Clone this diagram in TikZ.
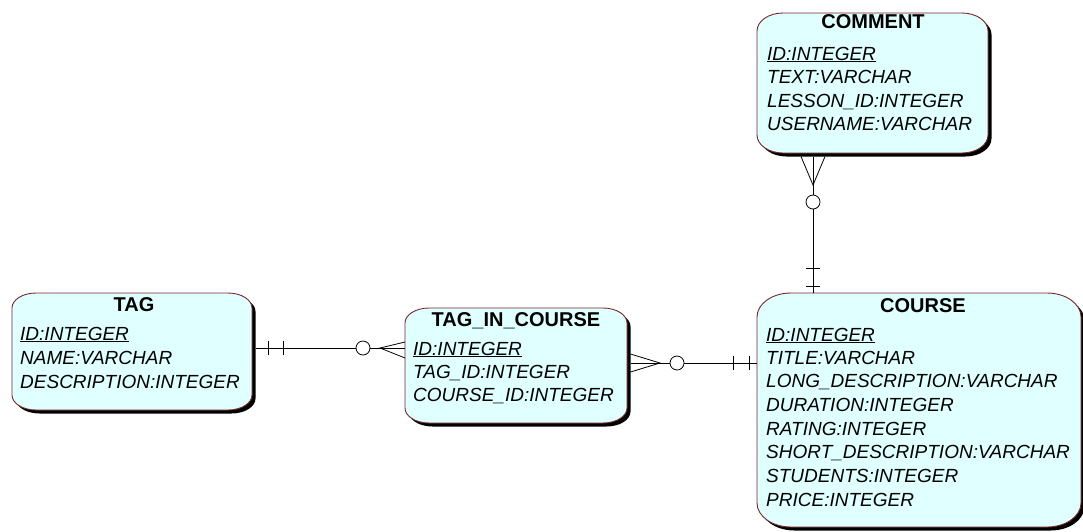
\documentclass[tikz,border=0pt]{standalone}
\usepackage{fontspec}
\setmainfont{Liberation Sans}
\definecolor{boxfill}{RGB}{224,255,255}
\definecolor{boxline}{RGB}{120,40,40}
% elliptical-corner box outline: x1,y1,x2,y2,rx,ry
\newcommand\erpath[6]{%
 (#1+#5,#2) -- (#3-#5,#2) .. controls (#3-0.4477*#5,#2) and (#3,#2+0.4477*#6) .. (#3,#2+#6)
 -- (#3,#4-#6) .. controls (#3,#4-0.4477*#6) and (#3-0.4477*#5,#4) .. (#3-#5,#4)
 -- (#1+#5,#4) .. controls (#1+0.4477*#5,#4) and (#1,#4-0.4477*#6) .. (#1,#4-#6)
 -- (#1,#2+#6) .. controls (#1,#2+0.4477*#6) and (#1+0.4477*#5,#2) .. (#1+#5,#2) -- cycle}
% entity: name, x1,y1,x2,y2, rx, ry
\newcommand\erentity[7]{%
 \fill[black, shift={(3.5,3.5)}] \erpath{#2}{#3}{#4}{#5}{#6}{#7};
 \filldraw[entitybox] \erpath{#2}{#3}{#4}{#5}{#6}{#7};
 \path (#2,#3) rectangle (#4,#5);
 \node[inner sep=0pt, outer sep=0pt, minimum width=#4pt-#2pt, minimum height=#5pt-#3pt, anchor=north west] (#1) at (#2,#3) {};}
\begin{document}
\begin{tikzpicture}[x=1pt,y=-1pt,
  entitybox/.style={draw=boxline, fill=boxfill, line width=0.9pt},
  title/.style={font=\fontsize{20}{24}\selectfont\bfseries, anchor=base, inner sep=0pt},
  field/.style={font=\fontsize{19}{24}\selectfont\itshape, anchor=base west, inner sep=0pt},
  conn/.style={line width=0.8pt, black},
  ring/.style={draw=black, line width=0.8pt, fill=white, circle, minimum size=14pt, inner sep=0pt}]
\useasboundingbox (0,0) rectangle (1083,531);
\fill[white] (0,0) rectangle (1083,531);

% entities
\erentity{tag}{12}{293}{252}{410}{24}{15}
\erentity{tic}{405}{308}{627}{423}{24}{15}
\erentity{comment}{757}{13}{988}{153}{26}{18}
\erentity{course}{757}{293}{1081}{527}{34}{24}

% TAG
\node[title] (tag-t) at (134,311) {TAG};
\node[field] (tag-1) at (20,340) {\underline{ID:INTEGER}};
\node[field] (tag-2) at (20,364) {NAME:VARCHAR};
\node[field] (tag-3) at (20,388) {DESCRIPTION:INTEGER};

% TAG_IN_COURSE
\node[title] (tic-t) at (516,326) {TAG\_IN\_COURSE};
\node[field] (tic-1) at (413,355) {\underline{ID:INTEGER}};
\node[field] (tic-2) at (413,378) {TAG\_ID:INTEGER};
\node[field] (tic-3) at (413,401) {COURSE\_ID:INTEGER};

% COMMENT
\node[title] (com-t) at (873,28) {COMMENT};
\node[field] (com-1) at (767,60) {\underline{ID:INTEGER}};
\node[field] (com-2) at (767,83) {TEXT:VARCHAR};
\node[field] (com-3) at (767,107) {LESSON\_ID:INTEGER};
\node[field] (com-4) at (767,130) {USERNAME:VARCHAR};

% COURSE
\node[title] (crs-t) at (923,312) {COURSE};
\node[field] (crs-1) at (766,341) {\underline{ID:INTEGER}};
\node[field] (crs-2) at (766,364) {TITLE:VARCHAR};
\node[field] (crs-3) at (766,387) {LONG\_DESCRIPTION:VARCHAR};
\node[field] (crs-4) at (766,411) {DURATION:INTEGER};
\node[field] (crs-5) at (766,435) {RATING:INTEGER};
\node[field] (crs-6) at (766,458) {SHORT\_DESCRIPTION:VARCHAR};
\node[field] (crs-7) at (766,482) {STUDENTS:INTEGER};
\node[field] (crs-8) at (766,506) {PRICE:INTEGER};

% TAG -- TAG_IN_COURSE
\coordinate (l1a) at (380,348);
\draw[conn] ([xshift=3.5pt]tag.east |- l1a) -- (tic.west |- l1a);
\draw[conn] (268,341) -- (268,355);
\draw[conn] (283,341) -- (283,355);
\draw[conn] (tic.west |- 0,342) -- (l1a) -- (tic.west |- 0,358);
\node[ring] (r1) at (363,348) {};

% TAG_IN_COURSE -- COURSE
\coordinate (l2a) at (660,363);
\draw[conn] ([xshift=3.5pt]tic.east |- l2a) -- (course.west |- l2a);
\draw[conn] ([xshift=3.5pt]tic.east |- 0,354) -- (l2a) -- ([xshift=3.5pt]tic.east |- 0,372);
\draw[conn] (733,356) -- (733,370);
\draw[conn] (749,356) -- (749,370);
\node[ring] (r2) at (677,363) {};

% COMMENT -- COURSE
\coordinate (l3a) at (813,185);
\draw[conn] ([yshift=-3.5pt]comment.south -| l3a) -- (course.north -| l3a);
\draw[conn] (801,156.5) -- (l3a) -- (825,156.5);
\draw[conn] (806,268) -- (820,268);
\draw[conn] (806,286) -- (820,286);
\node[ring] (r3) at (813,202) {};
\end{tikzpicture}
\end{document}
